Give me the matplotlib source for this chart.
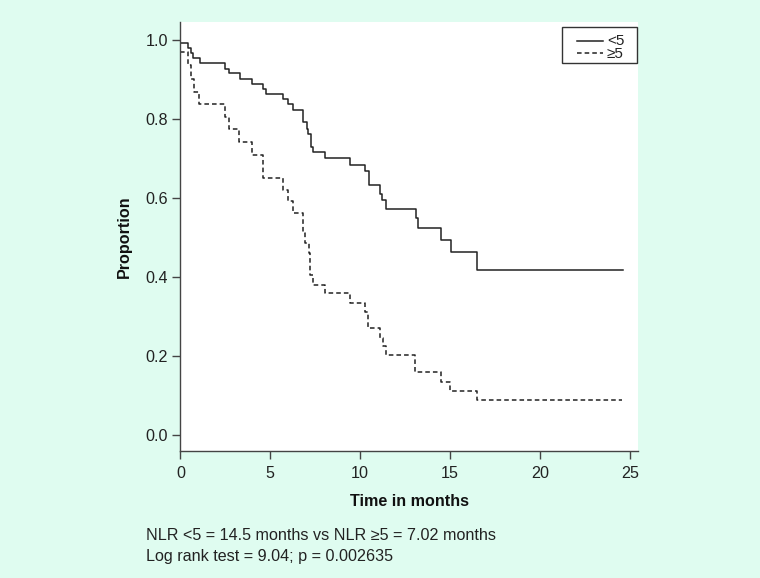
import matplotlib
matplotlib.use("Agg")
import matplotlib.pyplot as plt
from matplotlib.patches import Rectangle
from matplotlib.lines import Line2D

plt.rcParams['font.family'] = ['Liberation Sans', 'DejaVu Sans']

# Kaplan-Meier step data (time in months, proportion)
lt5_time = [0, 0.44, 0.57, 0.72, 1.09, 2.48, 2.72, 3.31, 3.96, 4.61, 4.76, 5.72, 6.0, 6.24, 6.84,
            7.02, 7.12, 7.25, 7.36, 8.04, 9.43, 10.27, 10.49, 11.1, 11.23, 11.42, 13.1, 13.2,
            14.48, 15.03, 16.51, 24.6]
lt5_prop = [0.992, 0.979, 0.968, 0.954, 0.943, 0.928, 0.916, 0.901, 0.888, 0.875, 0.863, 0.850,
            0.837, 0.823, 0.792, 0.776, 0.761, 0.730, 0.716, 0.702, 0.684, 0.668, 0.633, 0.610,
            0.595, 0.572, 0.549, 0.523, 0.493, 0.463, 0.418, 0.418]

ge5_time = [0, 0.45, 0.57, 0.76, 1.05, 2.48, 2.72, 3.28, 3.96, 4.58, 5.69, 6.0, 6.24, 6.80, 6.93,
            7.17, 7.21, 7.36, 8.04, 9.43, 10.27, 10.45, 11.1, 11.25, 11.44, 13.05, 14.48, 14.99,
            16.51, 24.55]
ge5_prop = [0.970, 0.937, 0.901, 0.869, 0.838, 0.806, 0.774, 0.743, 0.709, 0.650, 0.620, 0.593,
            0.563, 0.511, 0.485, 0.460, 0.405, 0.380, 0.359, 0.333, 0.312, 0.270, 0.245, 0.224,
            0.203, 0.158, 0.135, 0.112, 0.087, 0.087]

series_labels = ['<5', '≥5']
x_ticks = [0, 5, 10, 15, 20, 25]
y_ticks = [0.0, 0.2, 0.4, 0.6, 0.8, 1.0]
x_label = 'Time in months'
y_label = 'Proportion'
note_lines = ['NLR <5 = 14.5 months vs NLR ≥5 = 7.02 months',
              'Log rank test = 9.04; p = 0.002635']

W, H = 760, 578
FS = 11.6
bg = '#dffcf0'
ink = '#222222'
dash = (0, (3, 2))

fig = plt.figure(figsize=(W / 100, H / 100), dpi=100, facecolor=bg)
ax = fig.add_axes([180.4 / W, (H - 451) / H, (638 - 180.4) / W, (451 - 22) / H])
ax.set_facecolor('white')

ax.step(lt5_time, lt5_prop, where='post', color=ink, lw=1.1)
ax.step(ge5_time, ge5_prop, where='post', color=ink, lw=1.1, linestyle=dash)

ax.set_xlim(0, 25.45)
ax.set_ylim(-0.041, 1.046)
ax.set_xticks(x_ticks)
ax.set_yticks(y_ticks)
ax.set_yticklabels([f'{v:.1f}' for v in y_ticks])
for s in ['top', 'right']:
    ax.spines[s].set_visible(False)
for s in ['left', 'bottom']:
    ax.spines[s].set_color('#444444')
    ax.spines[s].set_linewidth(1.0)
ax.tick_params(direction='out', length=6, width=1.0, color='#444444',
               labelsize=FS, labelcolor=ink)
ax.tick_params(axis='x', pad=5)
ax.tick_params(axis='y', pad=3)

ax.set_xlabel(x_label, fontsize=FS, fontweight='bold', color='#111111', labelpad=9)
ax.set_ylabel(y_label, fontsize=FS, fontweight='bold', color='#111111', labelpad=10)


def fx(px):
    return px / W


def fy(py):
    return 1 - py / H


# legend box (drawn in figure pixel positions)
fig.add_artist(Rectangle((fx(561.7), fy(62.7)), fx(636.7) - fx(561.7), fy(27.3) - fy(62.7),
                         transform=fig.transFigure, facecolor='white', edgecolor='#333333',
                         lw=1.0, zorder=5))
row_y = [40.7, 53.3]
for yy, ls in zip(row_y, ['-', dash]):
    fig.add_artist(Line2D([fx(576.7), fx(603.3)], [fy(yy), fy(yy)], transform=fig.transFigure,
                          color=ink, lw=1.1, linestyle=ls, zorder=6))
fig.text(fx(607), fy(sum(row_y) / 2 + 0.5), '\n'.join(series_labels), fontsize=11, color=ink,
         ha='left', va='center', linespacing=0.86, zorder=6)

fig.text(146 / W, fy(546), '\n'.join(note_lines), fontsize=FS, color=ink,
         ha='left', va='center', linespacing=1.42)

fig.savefig('out.png', dpi=100, facecolor=bg)
